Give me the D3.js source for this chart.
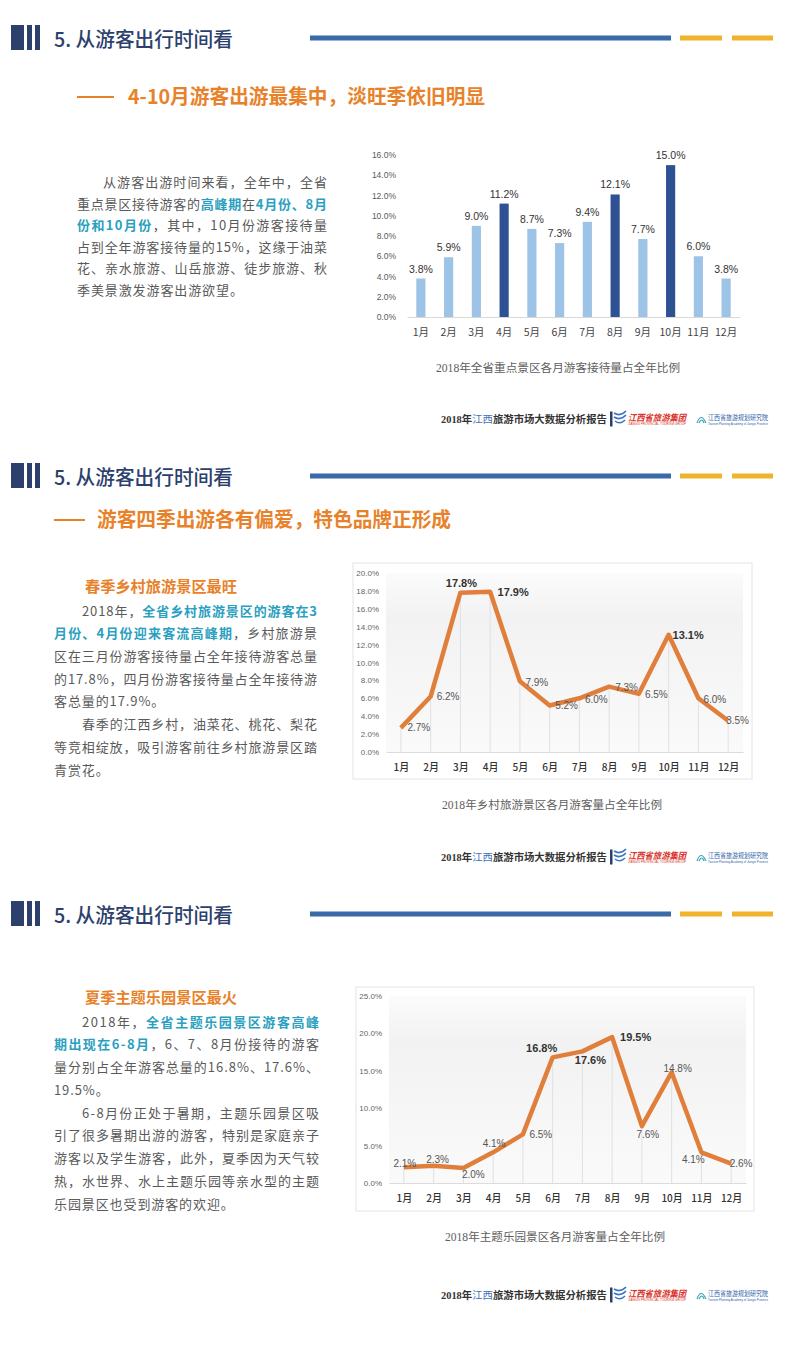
<!DOCTYPE html>
<html lang="zh">
<head>
<meta charset="utf-8">
<title>从游客出行时间看</title>
<script src="https://cdn.jsdelivr.net/npm/d3@7"></script>
<style>
  body { margin: 0; background: #fff; }
  svg { display: block; }
  .cjk { font-family: "Noto Sans CJK SC", sans-serif; }
  .num { font-family: "Liberation Sans", Arial, "Noto Sans CJK SC", sans-serif; }
  .serif { font-family: "Liberation Serif", "Noto Sans CJK SC", serif; }
</style>
</head>
<body>
<svg id="page" width="800" height="1354"></svg>
<script>

// ---- data ----
var months = ["1月","2月","3月","4月","5月","6月","7月","8月","9月","10月","11月","12月"];

// 2018年全省重点景区各月游客接待量占全年比例
var keyShare = [3.8, 5.9, 9.0, 11.2, 8.7, 7.3, 9.4, 12.1, 7.7, 15.0, 6.0, 3.8];
var keyPeaks = ["4月","8月","10月"];
var keyTicks = [0, 2, 4, 6, 8, 10, 12, 14, 16];

// 2018年乡村旅游景区各月游客量占全年比例
var ruralShare = [2.7, 6.2, 17.8, 17.9, 7.9, 5.2, 6.0, 7.3, 6.5, 13.1, 6.0, 3.5];
var ruralPeaks = ["3月","4月","10月"];
var ruralTicks = [0, 2, 4, 6, 8, 10, 12, 14, 16, 18, 20];

// 2018年主题乐园景区各月游客量占全年比例
var themeShare = [2.1, 2.3, 2.0, 4.1, 6.5, 16.8, 17.6, 19.5, 7.6, 14.8, 4.1, 2.6];
var themePeaks = ["6月","7月","8月"];
var themeTicks = [0, 5, 10, 15, 20, 25];

var sectionTitle = "5. 从游客出行时间看";
var subtitle1 = "4-10月游客出游最集中，淡旺季依旧明显";
var subtitle2 = "游客四季出游各有偏爱，特色品牌正形成";
var heading2 = "春季乡村旅游景区最旺";
var heading3 = "夏季主题乐园景区最火";
var caption1 = "2018年全省重点景区各月游客接待量占全年比例";
var caption2 = "2018年乡村旅游景区各月游客量占全年比例";
var caption3 = "2018年主题乐园景区各月游客量占全年比例";

// paragraphs -> lines -> [text, highlighted]
var text1 = [[
  [["从游客出游时间来看，全年中，全省", 0]],
  [["重点景区接待游客的", 0], ["高峰期", 1], ["在", 0], ["4月份、8月", 1]],
  [["份和10月份", 1], ["，其中，10月份游客接待量", 0]],
  [["占到全年游客接待量的15%，这缘于油菜", 0]],
  [["花、亲水旅游、山岳旅游、徒步旅游、秋", 0]],
  [["季美景激发游客出游欲望。", 0]]
]];
var text2 = [[
  [["2018年，", 0], ["全省乡村旅游景区的游客在3", 1]],
  [["月份、4月份迎来客流高峰期", 1], ["，乡村旅游景", 0]],
  [["区在三月份游客接待量占全年接待游客总量", 0]],
  [["的17.8%，四月份游客接待量占全年接待游", 0]],
  [["客总量的17.9%。", 0]]
], [
  [["春季的江西乡村，油菜花、桃花、梨花", 0]],
  [["等竞相绽放，吸引游客前往乡村旅游景区踏", 0]],
  [["青赏花。", 0]]
]];
var text3 = [[
  [["2018年，", 0], ["全省主题乐园景区游客高峰", 1]],
  [["期出现在6-8月", 1], ["，6、7、8月份接待的游客", 0]],
  [["量分别占全年游客总量的16.8%、17.6%、", 0]],
  [["19.5%。", 0]]
], [
  [["6-8月份正处于暑期，主题乐园景区吸", 0]],
  [["引了很多暑期出游的游客，特别是家庭亲子", 0]],
  [["游客以及学生游客，此外，夏季因为天气较", 0]],
  [["热，水世界、水上主题乐园等亲水型的主题", 0]],
  [["乐园景区也受到游客的欢迎。", 0]]
]];

// ---- style ----
var navy = "#2c3f6d", lineBlue = "#3b6aa8", gold = "#f0b32c", orange = "#e8822a",
    teal = "#2a9fc0", bodyGrey = "#5a5a5a", lightBar = "#9dc3e6", darkBar = "#2d5192",
    lineOrange = "#e07f3c";

var svg = d3.select("#page");
var defs = svg.append("defs");
var grad = defs.append("linearGradient").attr("id", "plotFade")
  .attr("x1", 0).attr("y1", 0).attr("x2", 0).attr("y2", 1);
grad.append("stop").attr("offset", "0").attr("stop-color", "#fbfbfb");
grad.append("stop").attr("offset", "0.25").attr("stop-color", "#f2f2f2");
grad.append("stop").attr("offset", "1").attr("stop-color", "#fafafa");

function header(gy) {
  var g = svg.append("g");
  [[11, 13], [27, 5], [35, 5]].forEach(function (b) {
    g.append("rect").attr("x", b[0]).attr("y", gy - 13).attr("width", b[1]).attr("height", 25).attr("fill", navy);
  });
  g.append("text").attr("class", "cjk").attr("x", 54).attr("y", gy + 9)
    .attr("font-size", 20).attr("font-weight", 500).attr("fill", navy)
    .attr("textLength", 179).attr("lengthAdjust", "spacingAndGlyphs")
    .text(sectionTitle);
  g.append("rect").attr("x", 310).attr("y", gy - 2.5).attr("width", 361).attr("height", 5).attr("fill", lineBlue);
  g.append("rect").attr("x", 680).attr("y", gy - 2.5).attr("width", 42).attr("height", 5).attr("fill", gold);
  g.append("rect").attr("x", 732).attr("y", gy - 2.5).attr("width", 41).attr("height", 5).attr("fill", gold);
}

function subtitle(cy, dashFrom, dashTo, tx, str, len) {
  svg.append("line").attr("x1", dashFrom).attr("x2", dashTo).attr("y1", cy).attr("y2", cy)
    .attr("stroke", orange).attr("stroke-width", 2);
  svg.append("text").attr("class", "cjk").attr("x", tx).attr("y", cy + 7)
    .attr("font-size", 20).attr("font-weight", "bold").attr("fill", orange)
    .attr("textLength", len).attr("lengthAdjust", "spacingAndGlyphs").text(str);
}

function paragraph(paras, o) {
  var row = 0;
  paras.forEach(function (lines) {
    lines.forEach(function (segs, i) {
      var x0 = o.left + (i === 0 ? o.indent : 0);
      var t = svg.append("text").attr("class", "cjk").attr("x", x0)
        .attr("y", o.top + row * o.step + 4.6)
        .attr("font-size", 13).attr("fill", bodyGrey);
      segs.forEach(function (s) {
        var ts = t.append("tspan").text(s[0]);
        if (s[1]) ts.attr("fill", teal).attr("font-weight", "bold");
      });
      if (i < lines.length - 1) t.attr("textLength", o.right - x0).attr("lengthAdjust", "spacing");
      else t.attr("letter-spacing", 0.9);
      row++;
    });
  });
}

function heading(x, cy, str) {
  svg.append("text").attr("class", "cjk").attr("x", x).attr("y", cy + 5.5)
    .attr("font-size", 15).attr("font-weight", "bold").attr("fill", orange)
    .attr("textLength", 152).attr("lengthAdjust", "spacingAndGlyphs").text(str);
}

function caption(cx, cy, str, len) {
  svg.append("text").attr("class", "serif").attr("x", cx).attr("y", cy + 4)
    .attr("text-anchor", "middle").attr("font-size", 11.5).attr("fill", "#5e5e5e")
    .attr("textLength", len).attr("lengthAdjust", "spacingAndGlyphs").text(str);
}

function footer(cy) {
  var g = svg.append("g");
  var t = g.append("text").attr("class", "serif").attr("x", 441).attr("y", cy + 3.5)
    .attr("font-size", 10).attr("font-weight", "bold").attr("fill", "#333")
    .attr("textLength", 166).attr("lengthAdjust", "spacingAndGlyphs");
  t.append("tspan").text("2018年");
  t.append("tspan").attr("fill", "#3f73b8").attr("font-weight", "normal").text("江西");
  t.append("tspan").text("旅游市场大数据分析报告");
  g.append("rect").attr("x", 610).attr("y", cy - 7.5).attr("width", 2.5).attr("height", 15).attr("fill", navy);
  // group logo
  g.append("path")
    .attr("d", "M614," + (cy - 6) + "q6,4 12,-2 M614," + (cy - 2) + "q6,4 12,-2 M615," + (cy + 2) + "q5,4 10,-1")
    .attr("fill", "none").attr("stroke", "#3c74c4").attr("stroke-width", 1.6);
  g.append("text").attr("class", "cjk").attr("x", 628).attr("y", cy + 2)
    .attr("font-size", 9).attr("font-style", "italic").attr("font-weight", "bold").attr("fill", "#d9332b")
    .attr("textLength", 58).attr("lengthAdjust", "spacingAndGlyphs").text("江西省旅游集团");
  g.append("text").attr("class", "num").attr("x", 628).attr("y", cy + 6)
    .attr("font-size", 2.6).attr("fill", "#d9332b")
    .attr("textLength", 58).attr("lengthAdjust", "spacingAndGlyphs").text("JIANGXI PROVINCIAL TOURISM GROUP");
  // academy logo
  g.append("path")
    .attr("d", "M697," + (cy + 4) + "q4,-11 9,0 M699," + (cy + 4) + "q3,-6 5,0")
    .attr("fill", "none").attr("stroke", "#3aa6b8").attr("stroke-width", 1.2);
  g.append("text").attr("class", "cjk").attr("x", 708).attr("y", cy + 1)
    .attr("font-size", 6.5).attr("fill", "#2f5fa6")
    .attr("textLength", 60).attr("lengthAdjust", "spacingAndGlyphs").text("江西省旅游规划研究院");
  g.append("text").attr("class", "num").attr("x", 708).attr("y", cy + 5.5)
    .attr("font-size", 2.6).attr("fill", "#2f5fa6")
    .attr("textLength", 60).attr("lengthAdjust", "spacingAndGlyphs").text("Tourism Planning Academy of Jiangxi Province");
}

function pct(d) { return d.toFixed(1) + "%"; }

function styleAxis(g, size, color) {
  g.select(".domain").remove();
  g.selectAll("text").attr("font-family", "\"Liberation Sans\", Arial, \"Noto Sans CJK SC\", sans-serif")
    .attr("font-size", size).attr("fill", color);
}

// ---- section 1 ----
header(38);
subtitle(97, 77, 114, 128, subtitle1, 357);
paragraph(text1, { left: 77, right: 327, indent: 26, top: 182.5, step: 21.5 });

var x1 = d3.scaleBand().domain(months).range([407, 740]).paddingInner(0.67).paddingOuter(0.335);
var y1 = d3.scaleLinear().domain([0, 16]).range([317, 155]);
var c1 = svg.append("g");
c1.append("g").attr("transform", "translate(399,0)")
  .call(d3.axisLeft(y1).tickValues(keyTicks).tickSize(0).tickPadding(3).tickFormat(pct))
  .call(styleAxis, 8.5, "#595959");
var xa1 = c1.append("g").attr("transform", "translate(0,317)")
  .call(d3.axisBottom(x1).tickSize(0).tickPadding(12));
xa1.select(".domain").attr("stroke", "#d9d9d9");
xa1.selectAll("text").attr("font-family", "\"Noto Sans CJK SC\", sans-serif").attr("font-size", 10.5).attr("fill", "#444");
var bars = months.map(function (m, i) { return { m: m, v: keyShare[i] }; });
c1.selectAll("rect.bar").data(bars).join("rect").attr("class", "bar")
  .attr("x", function (d) { return x1(d.m); })
  .attr("width", x1.bandwidth())
  .attr("y", function (d) { return y1(d.v); })
  .attr("height", function (d) { return y1(0) - y1(d.v); })
  .attr("fill", function (d) { return keyPeaks.indexOf(d.m) >= 0 ? darkBar : lightBar; });
c1.selectAll("text.val").data(bars).join("text").attr("class", "val num")
  .attr("x", function (d) { return x1(d.m) + x1.bandwidth() / 2; })
  .attr("y", function (d) { return y1(d.v) - 6; })
  .attr("text-anchor", "middle").attr("font-size", 10.5).attr("fill", "#333")
  .text(function (d) { return pct(d.v); });
caption(558, 368, caption1, 244);
footer(419);

// ---- line charts ----
function lineChart(o) {
  var g = svg.append("g");
  g.append("rect").attr("x", o.box[0]).attr("y", o.box[1]).attr("width", o.box[2] - o.box[0])
    .attr("height", o.box[3] - o.box[1]).attr("fill", "#fff").attr("stroke", "#e4e4e4");
  var x = d3.scalePoint().domain(months).range([o.left, o.right]).padding(0.5);
  var y = d3.scaleLinear().domain([0, o.max]).range([o.bottom, o.top]);
  g.append("rect").attr("x", o.left).attr("y", o.top).attr("width", o.right - o.left)
    .attr("height", o.bottom - o.top).attr("fill", "url(#plotFade)");
  g.append("g").attr("transform", "translate(" + (o.left - 4) + ",0)")
    .call(d3.axisLeft(y).tickValues(o.ticks).tickSize(0).tickPadding(3).tickFormat(pct))
    .call(styleAxis, 8, "#666");
  var xa = g.append("g").attr("transform", "translate(0," + o.bottom + ")")
    .call(d3.axisBottom(x).tickSize(0).tickPadding(11.5));
  xa.select(".domain").attr("stroke", "#dcdcdc");
  xa.selectAll("text").attr("font-family", "\"Noto Sans CJK SC\", sans-serif")
    .attr("font-size", 10).attr("font-weight", 500).attr("fill", "#333");
  var pts = months.map(function (m, i) { return { m: m, v: o.values[i], n: o.nudge[i] }; });
  g.selectAll("line.drop").data(pts).join("line").attr("class", "drop")
    .attr("x1", function (d) { return x(d.m); }).attr("x2", function (d) { return x(d.m); })
    .attr("y1", function (d) { return y(d.v); }).attr("y2", y(0))
    .attr("stroke", "#e0e0e0");
  g.append("path").datum(pts)
    .attr("d", d3.line().x(function (d) { return x(d.m); }).y(function (d) { return y(d.v); }))
    .attr("fill", "none").attr("stroke", lineOrange).attr("stroke-width", 4.5).attr("stroke-linejoin", "round");
  g.selectAll("text.val").data(pts).join("text").attr("class", "val num")
    .attr("x", function (d) { return x(d.m) + d.n[0]; })
    .attr("y", function (d) { return y(d.v) + d.n[1]; })
    .attr("dy", "0.35em").attr("text-anchor", "middle")
    .attr("font-size", function (d) { return o.peaks.indexOf(d.m) >= 0 ? 11 : 10; })
    .attr("font-weight", function (d) { return o.peaks.indexOf(d.m) >= 0 ? "bold" : "normal"; })
    .attr("fill", function (d) { return o.peaks.indexOf(d.m) >= 0 ? "#333" : "#555"; })
    .text(function (d) { return pct(d.v); });
}

// ---- section 2 ----
header(476);
subtitle(520, 54, 85, 97, subtitle2, 354);
heading(85, 586, heading2);
paragraph(text2, { left: 54, right: 317, indent: 28, top: 611, step: 22.7 });
lineChart({
  box: [353, 563, 752, 779], left: 386, right: 743, top: 573, bottom: 752,
  max: 20, ticks: ruralTicks, values: ruralShare, peaks: ruralPeaks,
  nudge: [[18, 0], [17.5, 0], [1, -10], [23, 0], [17, 1], [17, 0.5], [17, 1], [17.5, 0.5], [17.5, 1], [19.5, 0], [16.5, 1], [9.5, 0]]
});
caption(552, 805, caption2, 220);
footer(857);

// ---- section 3 ----
header(914);
heading(85, 997, heading3);
paragraph(text3, { left: 54, right: 319, indent: 28, top: 1022, step: 22.75 });
lineChart({
  box: [356, 987, 754, 1211], left: 389, right: 746, top: 996, bottom: 1183,
  max: 25, ticks: themeTicks, values: themeShare, peaks: themePeaks,
  nudge: [[1, -4], [4, -6], [10, 6], [1, -9], [18, 0], [-11, -9], [8, 9], [23.5, 0], [6, 8], [6, -4], [-8, 7], [10, 0]]
});
caption(555, 1237, caption3, 220);
footer(1295);

</script>
</body>
</html>
